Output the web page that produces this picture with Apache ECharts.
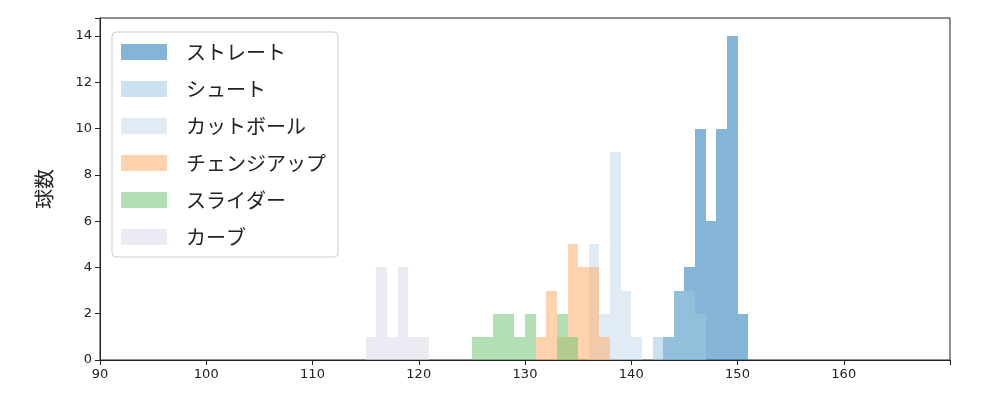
<!DOCTYPE html>
<html><head><meta charset="utf-8">
<script src="https://cdn.jsdelivr.net/npm/echarts@6/dist/echarts.min.js"></script>
<style>html,body{margin:0;padding:0}#c{width:1000px;height:400px}</style>
</head><body><div id="c"></div>
<script>
const names = ['ストレート','シュート','カットボール','チェンジアップ','スライダー','カーブ'];
const colors = ['#1f77b4','#9ecae1','#c6dbef','#fdae6b','#74c476','#dadaeb'];
// [bin start, count], bin width 1
const straight = [[143,1],[144,3],[145,4],[146,10],[147,6],[148,10],[149,14],[150,2]];
const shoot = [[142,1],[143,1],[144,3],[145,3],[146,2]];
const cutball = [[136,5],[137,2],[138,9],[139,3],[140,1]];
const changeup = [[131,1],[132,3],[133,1],[134,5],[135,4],[136,4],[137,1]];
const slider = [[125,1],[126,1],[127,2],[128,2],[129,1],[130,2],[133,2],[134,1]];
const curve = [[115,1],[116,4],[117,1],[118,4],[119,1],[120,1]];
const all = [straight, shoot, cutball, changeup, slider, curve];
const op = 0.55;

const series = all.map((d,i)=>({
  type:'custom', name:names[i], data:d,
  itemStyle:{color:colors[i], opacity:op},
  renderItem:(p,api)=>{
    const a = api.coord([api.value(0), api.value(1)]);
    const b = api.coord([api.value(0)+1, 0]);
    const x0 = Math.round(a[0]), x1 = Math.round(b[0]), y0 = Math.round(a[1]), y1 = Math.round(b[1]);
    return {type:'rect', shape:{x:x0, y:y0, width:x1-x0, height:y1-y0},
      style:{fill:colors[i], opacity:op, stroke:null}};
  },
  encode:{x:0,y:1}
}));

const chart = echarts.init(document.getElementById('c'));
chart.setOption({
  animation:false,
  grid:{left:100, right:50, top:18, bottom:40, show:true, borderColor:'#222', borderWidth:1},
  xAxis:{type:'value', min:90, max:170, interval:10,
    axisLine:{lineStyle:{color:'#222'}}, splitLine:{show:false},
    axisTick:{length:5, lineStyle:{color:'#222'}},
    axisLabel:{color:'#222', fontSize:13, fontFamily:'DejaVu Sans', formatter:v=>v>=170?'':v}},
  yAxis:{type:'value', min:0, max:14.78, interval:2,
    name:'球数', nameLocation:'middle', nameGap:46,
    nameTextStyle:{fontSize:20, color:'#222', fontFamily:'Noto Sans CJK JP'},
    axisLine:{show:true, lineStyle:{color:'#222'}}, splitLine:{show:false},
    axisTick:{show:true, length:5, lineStyle:{color:'#222'}},
    axisLabel:{color:'#222', fontSize:13, fontFamily:'DejaVu Sans', formatter:v=>v>14?'':v}},
  legend:{orient:'vertical', left:112, top:32, itemWidth:46, itemHeight:16, itemGap:17,
    padding:[10,12,10,9], borderColor:'#ccc', borderWidth:1, borderRadius:4,
    textStyle:{fontSize:20, color:'#222', fontFamily:'Noto Sans CJK JP', padding:[0,0,0,14]},
    data:names.map((n,i)=>({name:n, icon:'rect', itemStyle:{color:colors[i], opacity:op}}))},
  series
});
</script></body></html>
